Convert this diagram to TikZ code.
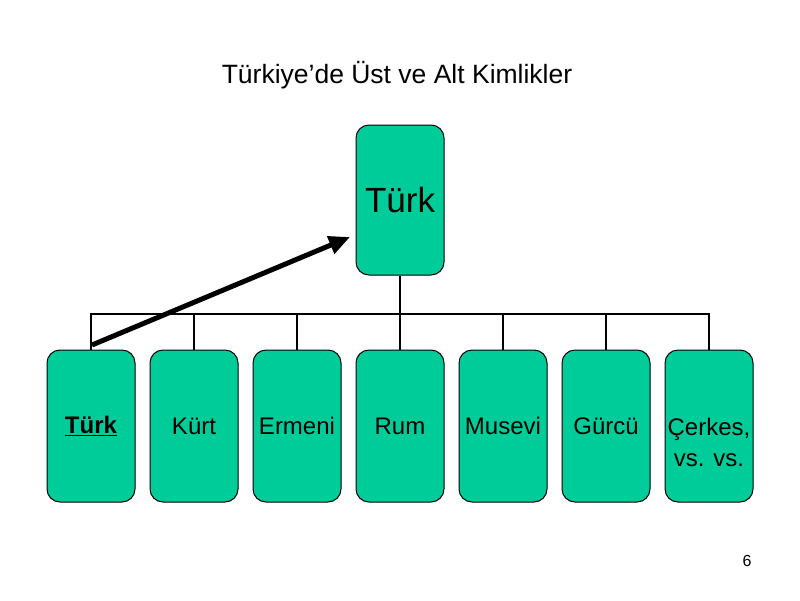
\documentclass[tikz,border=0pt]{standalone}
\usepackage{fontspec}
\setmainfont{Liberation Sans}
\usetikzlibrary{arrows.meta}
\definecolor{boxfill}{RGB}{0,204,153}
\begin{document}
\begin{tikzpicture}[x=1pt,y=-1pt,
  box/.style={draw=black,line width=1pt,fill=boxfill,rounded corners=13pt,
    minimum width=88pt,minimum height=152pt,inner sep=0pt,align=center,
    font=\fontsize{24}{27}\selectfont},
  boxtext/.style={inner sep=0pt,align=center,font=\fontsize{24}{31}\selectfont},
  conn/.style={line width=1.6pt,draw=black},
  bigarrow/.style={line width=5pt,-{Triangle[length=21pt,width=18pt]}}]
\useasboundingbox (0,0) rectangle (800,600);
\node (title) at (397,75) {\fontsize{26.5}{30}\selectfont Türkiye’de Üst ve Alt Kimlikler};
\node (page) at (747,561) {\fontsize{16}{18}\selectfont 6};
\coordinate (bus) at (400,314);
\node[box,minimum height=150pt,font=\fontsize{35}{40}\selectfont] (top) at (400,200) {Türk};
\node[box] (b1) at (91,426) {\underline{\textbf{Türk}}};
\node[box] (b2) at (194,426) {Kürt};
\node[box] (b3) at (297,426) {Ermeni};
\node[box] (b4) at (400,426) {Rum};
\node[box] (b5) at (503,426) {Musevi};
\node[box] (b6) at (606,426) {Gürcü};
\node[box] (b7) at (709,426) {};
\node[boxtext] (b7t) at (709,442) {Çerkes,\\vs. vs.};
\draw[conn] (top.south) -- (bus);
\draw[conn] (b1.north) |- (bus -| b7.north) -- (b7.north);
\foreach \b in {b2,b3,b4,b5,b6}{\draw[conn] (\b.north) -- (\b.north |- bus);}
\coordinate (astart) at (92,345);
\coordinate (aend) at (350,237);
\draw[bigarrow] (astart) -- (aend);
\end{tikzpicture}
\end{document}
